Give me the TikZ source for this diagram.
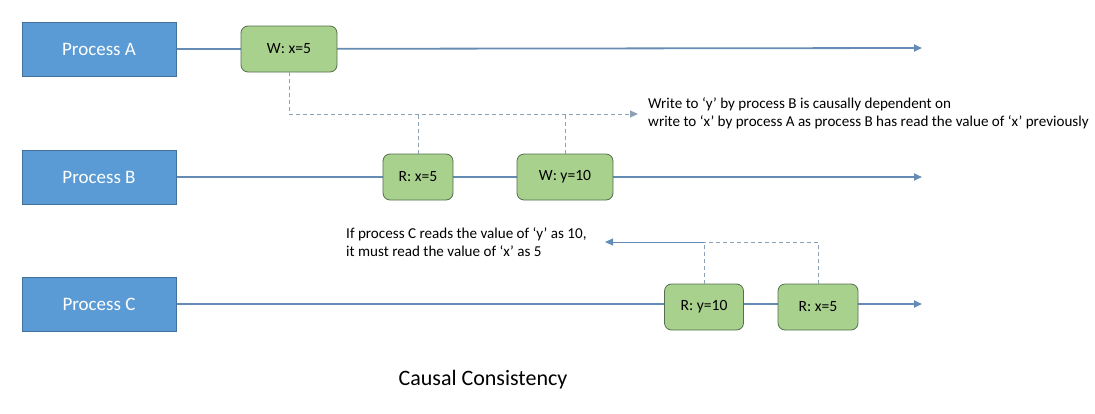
\documentclass[tikz,border=0pt]{standalone}
\usepackage{fontspec}
\setmainfont{Carlito}
\usetikzlibrary{positioning,arrows.meta}
\definecolor{procfill}{RGB}{91,155,213}
\definecolor{procdraw}{RGB}{65,113,156}
\definecolor{opfill}{RGB}{169,209,142}
\definecolor{opdraw}{RGB}{84,110,78}
\definecolor{timecol}{RGB}{100,140,180}
\definecolor{depcol}{RGB}{140,160,182}
\tikzset{
  proc/.style={draw=procdraw, fill=procfill, text=white, line width=1pt,
    minimum width=154, minimum height=54, inner sep=0pt,
    font=\fontsize{19}{22}\selectfont},
  op/.style={draw=opdraw, fill=opfill, rounded corners=7pt, line width=0.8pt,
    minimum height=46, inner sep=0pt, font=\fontsize{15.6}{18}\selectfont},
  timeline/.style={timecol, line width=1.8pt, -{Triangle[length=8pt,width=7pt]}},
  dep/.style={depcol, line width=1pt, dash pattern=on 4pt off 3pt},
  note/.style={anchor=west, align=left, inner sep=0pt}
}
\begin{document}
\begin{tikzpicture}[x=1pt, y=-1pt, font=\fontsize{15.1}{18}\selectfont]
			\useasboundingbox (0,0) rectangle (1095,413);
			%%Processes
			\node[proc] (pa) at (99,49) {Process A};
			\node[proc] (pb) at (99,177) {Process B};
			\node[proc] (pc) at (99,304) {Process C};
			\coordinate (ea) at (922,48);
			\coordinate (eb) at (922,177);
			\coordinate (ec) at (922,304);
			%%Timelines
			\draw[timeline] (pa.east) -- (ea);
			\draw[timeline] (pb.east) -- (eb);
			\draw[timeline] (pc.east) -- (ec);
			%%Operations
			\node[op, minimum width=96] (wx) at (289,49) {W: x=5};
			\node[op, minimum width=70] (rxb) at (418,177) {R: x=5};
			\node[op, minimum width=96] (wy) at (565,177) {W: y=10};
			\node[op, minimum width=79] (ryc) at (704,307) {R: y=10};
			\node[op, minimum width=80] (rxc) at (818,307) {R: x=5};
			%%Notes
			\node[note] (note1) at (648,113) {Write to ‘y’ by process B is causally dependent on\\write to ‘x’ by process A as process B has read the value of ‘x’ previously};
			\node[note] (note2) at (346,242) {If process C reads the value of ‘y’ as 10,\\it must read the value of ‘x’ as 5};
			\node[font=\fontsize{22}{26}\selectfont] (title) at (483,380) {Causal Consistency};
			%%Dependencies
			\coordinate (d1) at (638,114);
			\coordinate (d2) at (605,242);
			\draw[dep, -{Triangle[length=8pt,width=7pt]}] (wx.south) |- (d1);
			\draw[dep] (rxb.north) -- (rxb.north |- d1);
			\draw[dep] (wy.north) -- (wy.north |- d1);
			\draw[dep] (rxc.north) |- (ryc.north |- d2);
			\draw[dep] (ryc.north) -- (ryc.north |- d2);
			\draw[timecol, line width=1pt, -{Triangle[length=8pt,width=7pt]}] (ryc.north |- d2) -- (d2);
\end{tikzpicture}
\end{document}
